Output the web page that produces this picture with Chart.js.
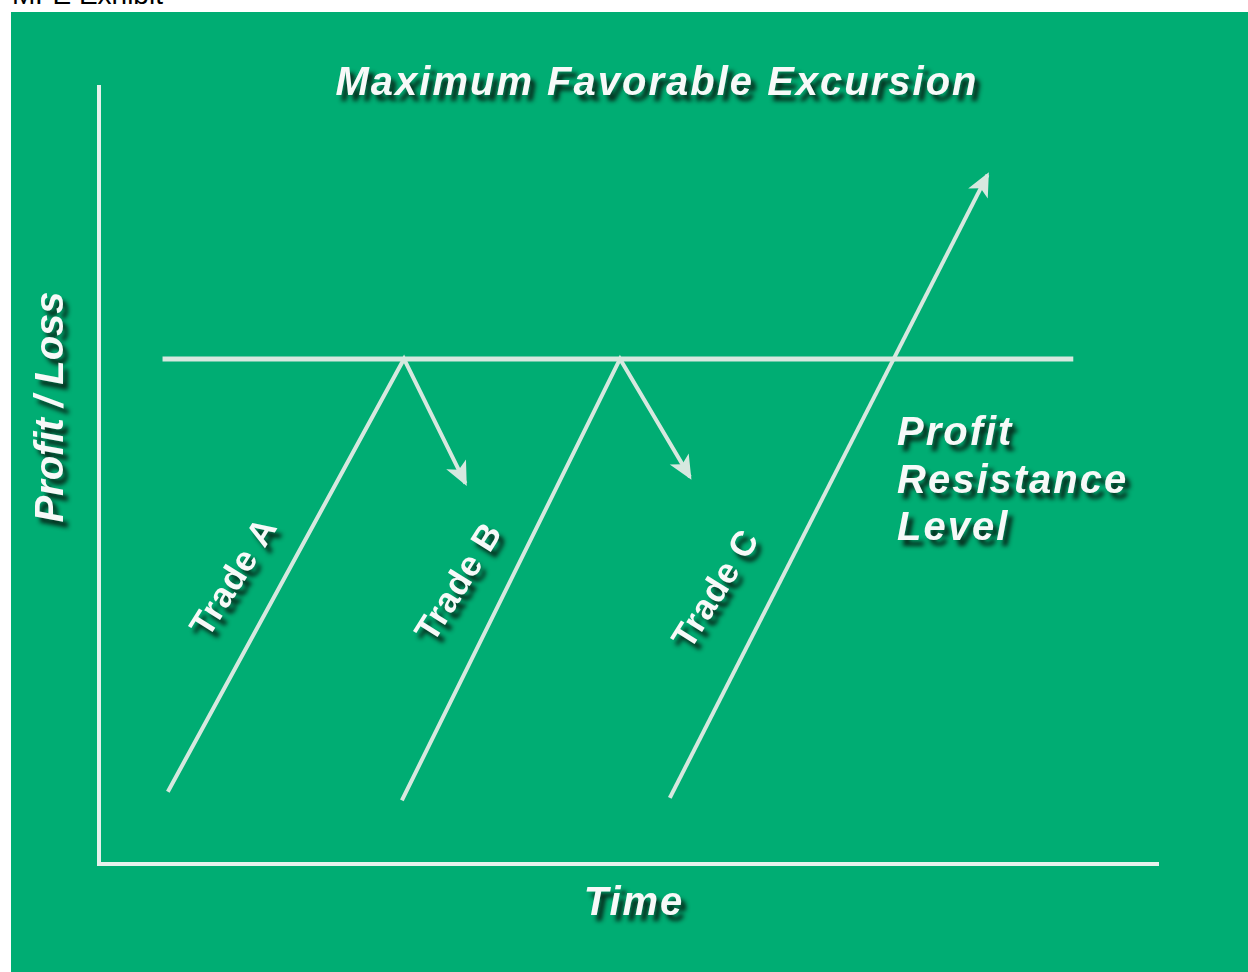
<!DOCTYPE html>
<html>
<head>
<meta charset="utf-8">
<title>MFE Exhibit</title>
<script src="https://cdn.jsdelivr.net/npm/chart.js@4.4.1/dist/chart.umd.min.js"></script>
<style>
  html, body { margin: 0; padding: 0; background: #fff; overflow: hidden; }
  body { width: 1248px; height: 972px; position: relative; }
  .caption { position: absolute; left: 12px; top: -19px; font: 28px/28px Arial, "Liberation Sans", sans-serif; color: #000; white-space: nowrap; }
  .panel { position: absolute; left: 11px; top: 12px; width: 1237px; height: 960px; background: #00ad73; }
</style>
</head>
<body>
<div class="caption">MFE Exhibit</div>
<div class="panel"><canvas id="mfeChart"></canvas></div>
<script>
// values (0-100 on both axes)
const resistanceX = [6, 92];
const resistanceY = [65, 65];

const tradeAX = [6.5, 28.8, 34.6];
const tradeAY = [9.3, 65, 49];

const tradeBX = [28.6, 49.2, 55.8];
const tradeBY = [8.2, 65, 49.8];

const tradeCX = [53.9, 83.9];
const tradeCY = [8.5, 88.7];

const tradeLabels = ['Trade A', 'Trade B', 'Trade C'];
const levelLabel = ['Profit', 'Resistance', 'Level'];

const lineColor = '#d6e8df';
const axisColor = '#e6f1ec';

function toPoints(xs, ys) {
    return xs.map((x, i) => ({ x, y: ys[i] }));
}

function lineSet(label, xs, ys, width, arrow) {
    return {
        label,
        data: toPoints(xs, ys),
        showLine: true,
        borderColor: lineColor,
        backgroundColor: lineColor,
        borderWidth: width,
        pointRadius: 0,
        tension: 0,
        clip: false,
        arrow
    };
}

function shadowText(ctx, text, x, y, opts) {
    ctx.save();
    ctx.translate(x, y);
    ctx.rotate(opts.angle || 0);
    ctx.font = opts.font;
    ctx.letterSpacing = (opts.spacing || 0) + 'px';
    ctx.textAlign = opts.align || 'left';
    ctx.textBaseline = opts.baseline || 'alphabetic';
    ctx.shadowColor = 'rgba(6, 38, 24, 0.95)';
    ctx.shadowOffsetX = 5;
    ctx.shadowOffsetY = 6;
    ctx.shadowBlur = 4;
    ctx.fillStyle = '#f7f9f8';
    ctx.fillText(text, 0, 0);
    ctx.restore();
}

const decorations = {
    id: 'decorations',
    afterDatasetsDraw(chart) {
        const ctx = chart.ctx;
        // arrowheads on the last segment of flagged series
        chart.data.datasets.forEach((ds, i) => {
            if (!ds.arrow) return;
            const pts = chart.getDatasetMeta(i).data;
            const a = pts[pts.length - 2];
            const b = pts[pts.length - 1];
            const ang = Math.atan2(b.y - a.y, b.x - a.x);
            ctx.save();
            ctx.translate(b.x, b.y);
            ctx.rotate(ang);
            ctx.fillStyle = ds.borderColor;
            ctx.beginPath();
            ctx.moveTo(3, 0);
            ctx.lineTo(-21, -11);
            ctx.lineTo(-15, 0);
            ctx.lineTo(-21, 11);
            ctx.closePath();
            ctx.fill();
            ctx.restore();
        });
    },
    afterDraw(chart) {
        const ctx = chart.ctx;
        const big = 'italic bold 40px Arial, "Liberation Sans", sans-serif';

        shadowText(ctx, 'Maximum Favorable Excursion', 646, 83, { font: big, spacing: 2, align: 'center' });
        shadowText(ctx, 'Time', 623, 903, { font: big, spacing: 2, align: 'center' });
        shadowText(ctx, 'Profit / Loss', 52, 395, { font: big, spacing: 0, align: 'center', angle: -Math.PI / 2 });

        const baselines = [433, 481, 528];
        levelLabel.forEach((t, i) => {
            shadowText(ctx, t, 886, baselines[i], { font: big, spacing: 2 });
        });

        const tradeSpots = [[224, 566], [449, 571], [706, 578]];
        tradeLabels.forEach((t, i) => {
            shadowText(ctx, t, tradeSpots[i][0], tradeSpots[i][1], {
                font: 'bold 35px Arial, "Liberation Sans", sans-serif',
                spacing: 0.5,
                align: 'center',
                baseline: 'middle',
                angle: -58 * Math.PI / 180
            });
        });
    }
};

const hiddenAxis = {
    type: 'linear',
    min: 0,
    max: 100,
    ticks: { display: false },
    grid: { display: false, drawTicks: false },
    border: { display: true, color: axisColor, width: 4 }
};

new Chart(document.getElementById('mfeChart'), {
    type: 'scatter',
    data: {
        datasets: [
            lineSet('Profit Resistance Level', resistanceX, resistanceY, 5, false),
            lineSet('Trade A', tradeAX, tradeAY, 4, true),
            lineSet('Trade B', tradeBX, tradeBY, 4, true),
            lineSet('Trade C', tradeCX, tradeCY, 4, true)
        ]
    },
    options: {
        responsive: true,
        maintainAspectRatio: false,
        animation: false,
        layout: { padding: { left: 88, top: 75, right: 90, bottom: 108 } },
        scales: {
            x: { ...hiddenAxis, position: 'bottom' },
            y: { ...hiddenAxis, position: 'left' }
        },
        plugins: {
            legend: { display: false },
            tooltip: { enabled: false }
        }
    },
    plugins: [decorations]
});
</script>
</body>
</html>
